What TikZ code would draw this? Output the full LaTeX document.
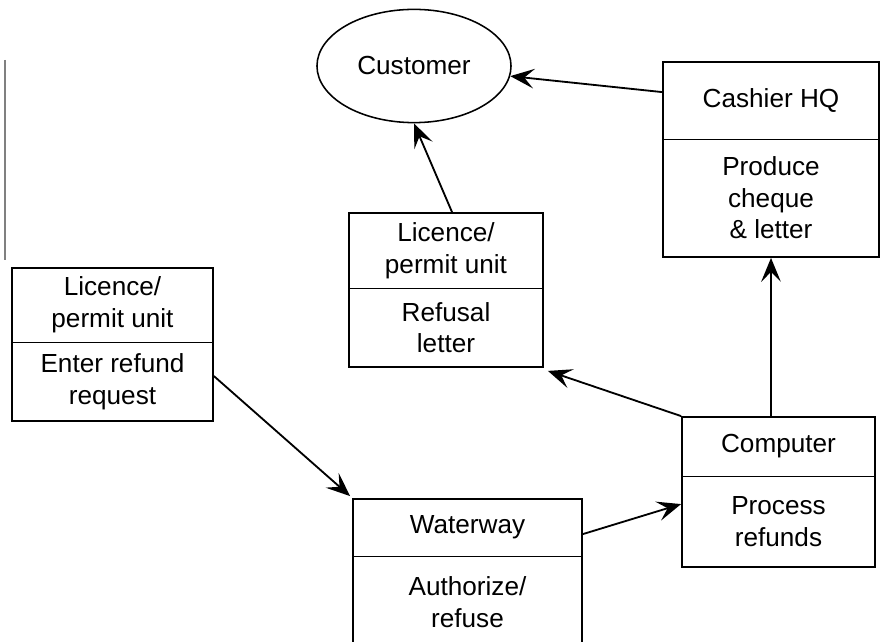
\documentclass[tikz,border=0pt]{standalone}
\usepackage{fontspec}
\setmainfont{Liberation Sans}
\usetikzlibrary{arrows.meta, positioning, shapes, fit, calc}

\begin{document}
\begin{tikzpicture}[x=0.025cm, y=-0.025cm, font=\fontsize{18.6}{22.5}\selectfont, >={Stealth[length=17pt, width=14pt, inset=7pt]}]
    \useasboundingbox (0,0) rectangle (881,642);
    \clip (0,0) rectangle (881,642);
    \draw[gray, line width=0.8pt] (5,60) -- (5,260);
    \node[draw, ellipse, line width=1.1pt, minimum width=4.85cm, minimum height=2.83cm] (customer) at (414,66) {Customer};
    \foreach \n/\l/\t/\r/\b/\d/\title/\body in {
        unitA/12/268/213/421/342/{Licence/\\permit unit}/{Enter refund\\request},
        unitB/349/213/543/367/288/{Licence/\\permit unit}/{Refusal\\letter},
        cashier/663/62/879/257/139/{Cashier HQ}/{Produce\\cheque\\\& letter},
        computer/682/417/875/567/476/{Computer}/{Process\\refunds},
        waterway/353/499/582/648/556/{Waterway}/{Authorize/\\refuse}} {
        \node[draw, line width=1.3pt, inner sep=0pt, fit={(\l,\t) (\r,\b)}] (\n) {};
        \draw[line width=0.7pt] (\l,\d) -- (\r,\d);
        \node[align=center] (\n-top) at ({(\l+\r)/2}, {(\t+\d)/2}) {\title};
        \node[align=center] (\n-bot) at ({(\l+\r)/2}, {(\d+\b)/2}) {\body};
    }
    \draw[->, line width=1.3pt] ($(cashier.north west)+(0,31)$) -- (customer);
    \draw[->, line width=1.3pt] ($(unitB.north)+(6,0)$) -- (customer.south);
    \draw[->, line width=1.3pt] (computer.north -| cashier.south) -- (cashier.south);
    \draw[->, line width=1.3pt] (computer.north west) -- ($(unitB.south east)+(4,3)$);
    \draw[->, line width=1.3pt] ($(unitA.north east)+(0,109)$) -- ($(waterway.north west)+(-2,-2)$);
    \draw[->, line width=1.3pt] ($(waterway.north east)+(0,36)$) -- ($(computer.north west)+(0,88)$);
\end{tikzpicture}
\end{document}
